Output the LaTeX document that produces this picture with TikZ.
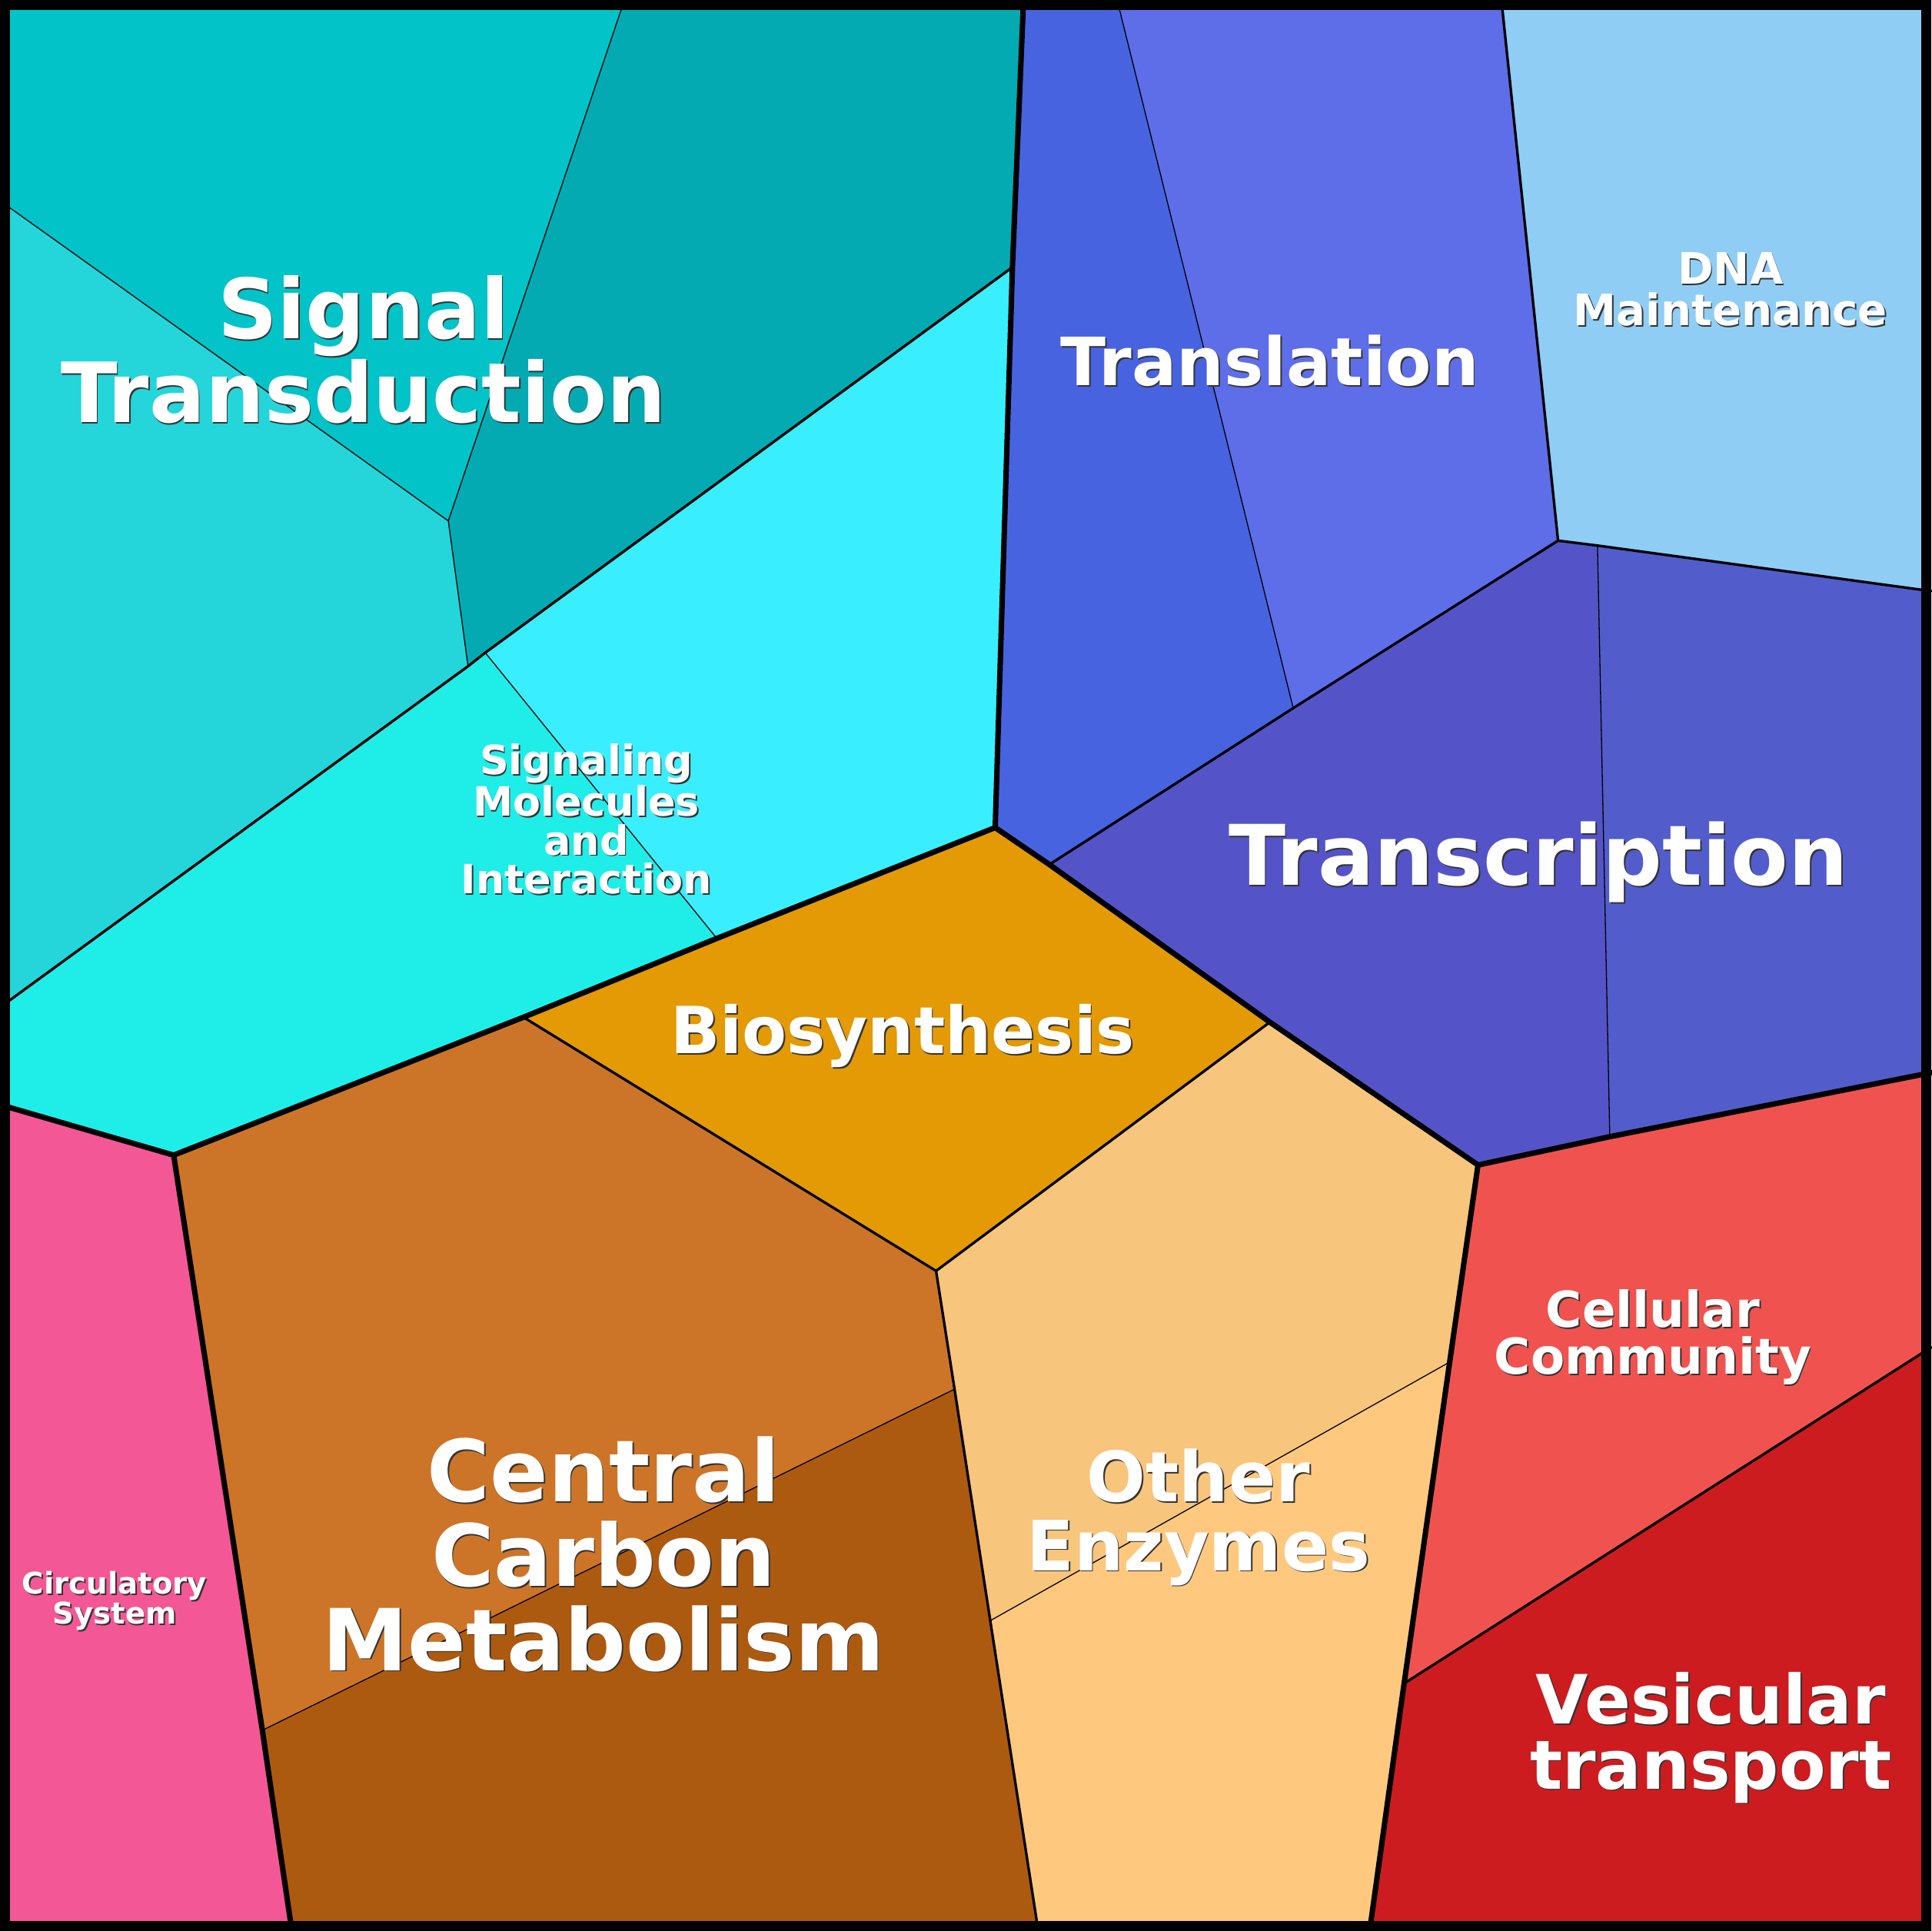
\documentclass[tikz,border=0pt]{standalone}
\usepackage{fontspec}
\setmainfont{DejaVu Sans}
\definecolor{cSTa}{HTML}{02C3C8}
\definecolor{cSTb}{HTML}{03AAB2}
\definecolor{cSTc}{HTML}{24D5DA}
\definecolor{cSMa}{HTML}{39EEFF}
\definecolor{cSMb}{HTML}{1FEDE8}
\definecolor{cTLa}{HTML}{4763E0}
\definecolor{cTLb}{HTML}{5E6DE8}
\definecolor{cDNA}{HTML}{8FCDF5}
\definecolor{cTCa}{HTML}{5454C8}
\definecolor{cTCb}{HTML}{525DCB}
\definecolor{cBIO}{HTML}{E39A04}
\definecolor{cCCa}{HTML}{CC7528}
\definecolor{cCCb}{HTML}{AD5A11}
\definecolor{cOEa}{HTML}{F7C57C}
\definecolor{cOEb}{HTML}{FEC97F}
\definecolor{cCOM}{HTML}{F0534F}
\definecolor{cVT}{HTML}{CC1C1F}
\definecolor{cCIR}{HTML}{F45795}
\newcommand\vlabel[5]{%
  \node[shd,font=\bfseries\fontsize{#3}{#4}\selectfont,xshift=0.5pt,yshift=-0.5pt] at (#2) {#5};
  \node[lab,font=\bfseries\fontsize{#3}{#4}\selectfont] (#1) at (#2) {#5};}
\begin{document}
\begin{tikzpicture}[x=0.016cm,y=-0.016cm,line join=round,line cap=round,
  thickl/.style={line width=2pt},
  medl/.style={line width=0.95pt},
  thinl/.style={line width=0.37pt},
  lab/.style={text=white,align=center,inner sep=0pt},
  shd/.style={text=black!80,align=center,inner sep=0pt}]
\useasboundingbox (0,0) rectangle (1568,1568);
% corners and edge points
\coordinate (A) at (0,0);
\coordinate (B) at (1568,0);
\coordinate (C) at (1568,1568);
\coordinate (D) at (0,1568);
\coordinate (t1) at (507,0);
\coordinate (t2) at (831,0);
\coordinate (t3) at (907,0);
\coordinate (t4) at (1219,0);
\coordinate (l1) at (0,163);
\coordinate (l2) at (0,818);
\coordinate (l3) at (0,897);
\coordinate (r1) at (1568,480);
\coordinate (r2) at (1568,871);
\coordinate (r3) at (1568,1094);
\coordinate (b1) at (237,1568);
\coordinate (b2) at (843,1568);
\coordinate (b3) at (1112,1568);
% inner vertices
\coordinate (s1) at (364,423);
\coordinate (s2) at (380,541);
\coordinate (s3) at (394,530);
\coordinate (s4) at (822,217);
\coordinate (s5) at (582,762);
\coordinate (p1) at (808,672);
\coordinate (p2) at (425,826);
\coordinate (p3) at (760,1032);
\coordinate (p4) at (1031,830);
\coordinate (p5) at (141,938);
\coordinate (p6) at (852,702);
\coordinate (p7) at (1200,946);
\coordinate (g1) at (1265,439);
\coordinate (g2) at (1297,443);
\coordinate (g3) at (1050,575);
\coordinate (g4) at (1307,923);
\coordinate (m1) at (213,1405);
\coordinate (m2) at (775,1128);
\coordinate (m3) at (804,1316);
\coordinate (m4) at (1177,1106);
\coordinate (m5) at (1140,1367);
% fills
\fill[cSTa] (A) -- (t1) -- (s1) -- (l1) -- cycle;
\fill[cSTb] (t1) -- (t2) -- (s4) -- (s2) -- (s1) -- cycle;
\fill[cSTc] (l1) -- (s1) -- (s2) -- (l2) -- cycle;
\fill[cSMa] (s3) -- (s4) -- (p1) -- (s5) -- cycle;
\fill[cSMb] (l2) -- (s2) -- (s3) -- (s5) -- (p2) -- (p5) -- (l3) -- cycle;
\fill[cTLa] (t2) -- (t3) -- (g3) -- (p6) -- (p1) -- cycle;
\fill[cTLb] (t3) -- (t4) -- (g1) -- (g3) -- cycle;
\fill[cDNA] (t4) -- (B) -- (r1) -- (g2) -- (g1) -- cycle;
\fill[cTCa] (g1) -- (g2) -- (g4) -- (p7) -- (p4) -- (p6) -- (g3) -- cycle;
\fill[cTCb] (g2) -- (r1) -- (r2) -- (g4) -- cycle;
\fill[cBIO] (p1) -- (p4) -- (p3) -- (p2) -- cycle;
\fill[cCCa] (p5) -- (p2) -- (p3) -- (m2) -- (m1) -- cycle;
\fill[cCCb] (m1) -- (m2) -- (b2) -- (b1) -- cycle;
\fill[cOEa] (p3) -- (p4) -- (p7) -- (m4) -- (m3) -- cycle;
\fill[cOEb] (m3) -- (m4) -- (b3) -- (b2) -- cycle;
\fill[cCOM] (p7) -- (g4) -- (r2) -- (r3) -- (m5) -- cycle;
\fill[cVT] (m5) -- (r3) -- (C) -- (b3) -- cycle;
\fill[cCIR] (l3) -- (p5) -- (b1) -- (D) -- cycle;
% thin lines
\draw[thinl] (l1) -- (s1) -- (t1);
\draw[thinl] (s1) -- (s2);
\draw[thinl] (s3) -- (s5);
\draw[thinl] (t3) -- (g3);
\draw[thinl] (g2) -- (g4);
\draw[thinl] (m1) -- (m2);
\draw[thinl] (m3) -- (m4);
% medium lines
\draw[medl] (l2) -- (s2) -- (s3) -- (s4);
\draw[medl] (g1) -- (g3) -- (p6);
\draw[medl] (t4) -- (g1) -- (g2) -- (r1);
\draw[medl] (p2) -- (p3) -- (m2) -- (m3) -- (b2);
\draw[medl] (p3) -- (p4);
\draw[medl] (m5) -- (r3);
% thick lines
\draw[thickl] (t2) -- (s4) -- (p1) -- (p6) -- (p4) -- (p7) -- (m4) -- (m5) -- (b3);
\draw[thickl] (p1) -- (s5) -- (p2) -- (p5) -- (l3);
\draw[thickl] (p5) -- (m1) -- (b1);
\draw[thickl] (p7) -- (g4) -- (r2);
% border
\draw[line width=3.6pt,line join=miter] (3.95,3.95) rectangle (1564.05,1564.05);
% labels
\vlabel{lST}{295,284}{30.7}{29.6}{Signal\\Transduction}
\vlabel{lTL}{1031,293}{24.6}{23.6}{Translation}
\vlabel{lDNA}{1405,235}{16.0}{15.3}{DNA\\Maintenance}
\vlabel{lSM}{476,665}{14.9}{14.3}{Signaling\\Molecules\\and\\Interaction}
\vlabel{lTC}{1249,700}{30.9}{29.7}{Transcription}
\vlabel{lBIO}{733,841}{24.0}{23}{Biosynthesis}
\vlabel{lCC}{490,1262}{31.7}{31.2}{Central\\Carbon\\Metabolism}
\vlabel{lOE}{973,1232}{25.7}{25.4}{Other\\Enzymes}
\vlabel{lCOM}{1342,1086}{18.3}{17.4}{Cellular\\Community}
\vlabel{lVT}{1389,1411}{25.1}{24}{Vesicular\\transport}
\vlabel{lCIR}{93,1300}{11}{11}{Circulatory\\System}
\end{tikzpicture}
\end{document}
